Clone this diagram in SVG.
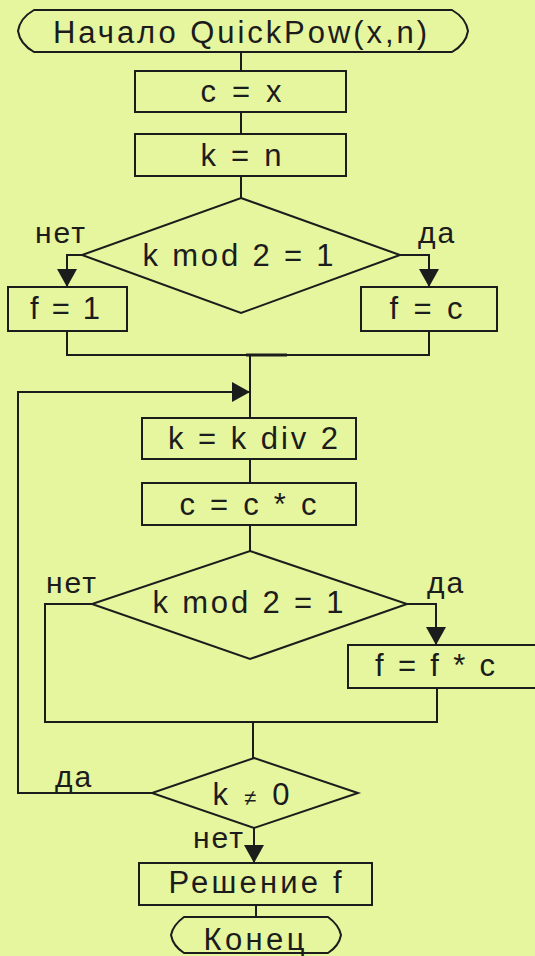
<svg xmlns="http://www.w3.org/2000/svg" width="535" height="956" viewBox="0 0 535 956">
  <style>
    .shape { fill: none; stroke: #1c1c1c; stroke-width: 2; }
    .wire { fill: none; stroke: #1c1c1c; stroke-width: 2; }
    .lbl { font-family: "Liberation Sans", Arial, sans-serif; font-size: 31px; fill: #1c1c1c; text-anchor: middle; }
    .tag { font-family: "Liberation Sans", Arial, sans-serif; font-size: 30px; fill: #1c1c1c; letter-spacing: 2px; }
  </style>
  <defs>
    <marker id="arrow" markerUnits="userSpaceOnUse" markerWidth="18" markerHeight="20" refX="18" refY="10" orient="auto">
      <path d="M0,0 L18,10 L0,20 Z" fill="#1c1c1c"/>
    </marker>
  </defs>

  <rect x="0" y="0" width="535" height="956" fill="#e6f69e"/>

  <!-- connectors -->
  <g id="connectors">
    <path class="wire" d="M241,52 V71"/>
    <path class="wire" d="M241,112 V134"/>
    <path class="wire" d="M241,176 V198"/>
    <path class="wire" d="M82,255 H67 V287" marker-end="url(#arrow)"/>
    <path class="wire" d="M400,255 H429 V287" marker-end="url(#arrow)"/>
    <path class="wire" d="M67,331 V355 H429 V331"/>
    <path class="wire" d="M246,355 H287" style="stroke-width:3"/>
    <path class="wire" d="M250,355 V418"/>
    <path class="wire" d="M152,793 H18 V392 H250" marker-end="url(#arrow)"/>
    <path class="wire" d="M250,459 V483"/>
    <path class="wire" d="M250,525 V551"/>
    <path class="wire" d="M407,604 H436 V645" marker-end="url(#arrow)"/>
    <path class="wire" d="M92,604 H45 V722 H437 V688"/>
    <path class="wire" d="M253,722 V758"/>
    <path class="wire" d="M254,828 V863" marker-end="url(#arrow)"/>
    <path class="wire" d="M256,905 V917"/>
  </g>

  <g id="start">
    <path class="shape" d="M34,10 H452 Q466,18 468,31 Q466,44 452,52 H34 Q20,44 18,31 Q20,18 34,10 Z"/>
    <text class="lbl" x="240" y="43" font-size="32" textLength="374">Начало QuickPow(x,n)</text>
  </g>

  <g id="set-c">
    <rect class="shape" x="135" y="71" width="211" height="41"/>
    <text class="lbl" x="241" y="102" textLength="81">c = x</text>
  </g>

  <g id="set-k">
    <rect class="shape" x="135" y="134" width="211" height="42"/>
    <text class="lbl" x="241" y="166" textLength="81">k = n</text>
  </g>

  <g id="check-odd-1">
    <path class="shape" d="M241,198 L400,255 L241,313 L82,255 Z"/>
    <text class="lbl" x="238" y="266" textLength="191">k mod 2 = 1</text>
    <text class="tag" x="35" y="243">нет</text>
    <text class="tag" x="418" y="243">да</text>
  </g>

  <g id="f-one">
    <rect class="shape" x="8" y="287" width="119" height="44"/>
    <text class="lbl" x="65" y="319" textLength="70">f = 1</text>
  </g>

  <g id="f-c">
    <rect class="shape" x="361" y="287" width="136" height="44"/>
    <text class="lbl" x="426" y="319" textLength="73">f = c</text>
  </g>

  <g id="halve-k">
    <rect class="shape" x="142" y="418" width="214" height="41"/>
    <text class="lbl" x="253" y="449" textLength="170">k = k div 2</text>
  </g>

  <g id="square-c">
    <rect class="shape" x="142" y="483" width="214" height="42"/>
    <text class="lbl" x="248" y="515" textLength="137">c = c * c</text>
  </g>

  <g id="check-odd-2">
    <path class="shape" d="M250,551 L407,604 L250,659 L92,604 Z"/>
    <text class="lbl" x="248" y="613" textLength="191">k mod 2 = 1</text>
    <text class="tag" x="46" y="593">нет</text>
    <text class="tag" x="427" y="593">да</text>
  </g>

  <g id="mul-f">
    <rect class="shape" x="348" y="645" width="200" height="43"/>
    <text class="lbl" x="435" y="676" textLength="120">f = f * c</text>
  </g>

  <g id="check-nonzero">
    <path class="shape" d="M254,758 L358,793 L254,828 L152,793 Z"/>
    <text class="lbl" x="251" y="805" textLength="77">k <tspan font-size="22">≠</tspan> 0</text>
    <text class="tag" x="55" y="787">да</text>
    <text class="tag" x="193" y="848">нет</text>
  </g>

  <g id="result">
    <rect class="shape" x="139" y="863" width="233" height="42"/>
    <text class="lbl" x="255" y="893" textLength="173">Решение f</text>
  </g>

  <g id="end">
    <path class="shape" d="M184,917 H328 Q339,925 341,935 Q339,946 328,953 H184 Q173,946 171,935 Q173,925 184,917 Z"/>
    <text class="lbl" x="254" y="950" textLength="101">Конец</text>
  </g>
</svg>
